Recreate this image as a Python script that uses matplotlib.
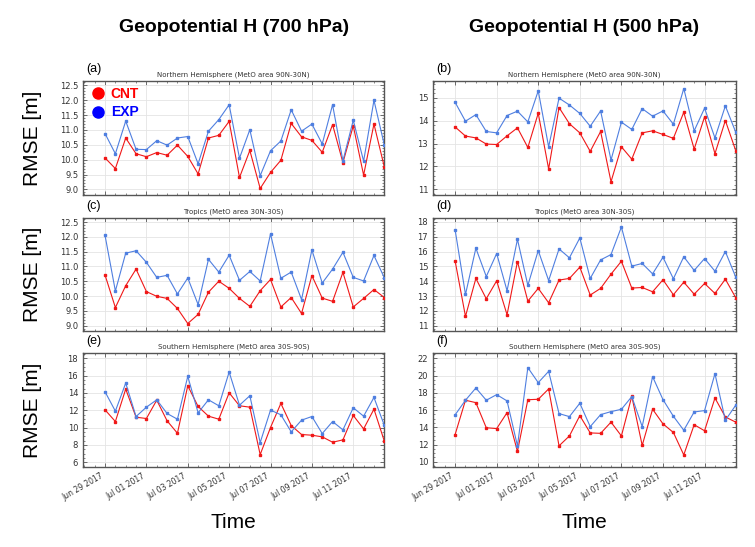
import numpy as np
import matplotlib
matplotlib.use("Agg")
import matplotlib.pyplot as plt
import matplotlib.dates as mdates
from matplotlib.ticker import MultipleLocator, AutoMinorLocator, FormatStrFormatter
from matplotlib.lines import Line2D

# 12-hourly verification times
times = np.arange(np.datetime64('2017-06-29T00'), np.datetime64('2017-07-12T13'),
                  np.timedelta64(12, 'h'))

# RMSE [m], Northern Hemisphere
cnt_nh_700 = [10.06, 9.70, 10.73, 10.20, 10.10, 10.24, 10.15, 10.49, 10.11, 9.52, 10.73, 10.82, 11.29, 9.40,
              10.31, 9.03, 9.57, 9.98, 11.22, 10.77, 10.65, 10.25, 11.18, 9.90, 11.14, 9.48, 11.20, 9.76]
exp_nh_700 = [10.88, 10.20, 11.30, 10.35, 10.34, 10.64, 10.49, 10.73, 10.78, 9.86, 10.96, 11.35, 11.85, 10.05,
              11.01, 9.46, 10.30, 10.63, 11.68, 10.96, 11.20, 10.53, 11.85, 9.96, 11.33, 9.95, 12.00, 10.50]
cnt_nh_500 = [13.73, 13.33, 13.25, 12.98, 12.96, 13.34, 13.69, 12.83, 14.33, 11.89, 14.58, 13.87, 13.47, 12.66,
              13.53, 11.33, 12.86, 12.32, 13.47, 13.56, 13.40, 13.23, 14.37, 12.76, 14.17, 12.56, 14.01, 12.69]
exp_nh_500 = [14.81, 13.98, 14.27, 13.53, 13.47, 14.23, 14.42, 13.95, 15.31, 12.86, 14.99, 14.69, 14.32, 13.76,
              14.43, 12.28, 13.94, 13.62, 14.53, 14.20, 14.43, 13.85, 15.41, 13.56, 14.55, 13.25, 14.65, 13.50]

# Tropics
cnt_tr_700 = [10.71, 9.61, 10.35, 10.91, 10.15, 9.99, 9.92, 9.58, 9.07, 9.38, 10.13, 10.50, 10.26, 9.92,
              9.65, 10.18, 10.56, 9.63, 9.95, 9.41, 10.69, 9.93, 9.82, 10.80, 9.63, 9.92, 10.22, 9.95]
exp_tr_700 = [12.05, 10.17, 11.45, 11.53, 11.14, 10.63, 10.70, 10.07, 10.61, 9.71, 11.24, 10.81, 11.38, 10.53,
              10.83, 10.51, 12.10, 10.60, 10.81, 9.88, 11.56, 10.44, 10.91, 11.48, 10.63, 10.51, 11.37, 10.62]
cnt_tr_500 = [15.38, 11.63, 14.19, 12.82, 14.03, 11.74, 15.33, 12.66, 13.52, 12.55, 14.08, 14.19, 14.95, 13.07,
              13.52, 14.48, 15.35, 13.54, 13.58, 13.29, 14.10, 13.09, 13.94, 13.13, 13.85, 13.18, 14.14, 12.89]
exp_tr_500 = [17.48, 13.11, 16.23, 14.32, 15.87, 13.36, 16.83, 13.72, 16.07, 14.05, 16.18, 15.58, 16.92, 14.19,
              15.44, 15.80, 17.66, 15.02, 15.20, 14.50, 15.62, 14.17, 15.65, 14.73, 15.53, 14.68, 16.00, 14.28]

# Southern Hemisphere
cnt_sh_700 = [12.05, 10.70, 14.45, 11.20, 11.05, 13.17, 10.78, 9.35, 14.83, 12.44, 11.32, 10.97, 14.02, 12.52,
              12.36, 6.88, 10.01, 12.79, 10.24, 9.20, 9.12, 8.93, 8.31, 8.58, 11.40, 9.85, 12.13, 8.45]
exp_sh_700 = [14.14, 11.90, 15.14, 11.28, 12.36, 13.21, 11.63, 10.97, 15.92, 11.71, 13.21, 12.52, 16.42, 12.59,
              13.68, 8.27, 12.02, 11.48, 9.51, 10.86, 11.28, 9.31, 10.70, 9.74, 12.29, 11.32, 13.48, 10.27]
cnt_sh_500 = [13.15, 17.14, 16.86, 13.95, 13.85, 15.70, 11.20, 17.20, 17.25, 18.45, 11.85, 13.00, 15.35, 13.35,
              13.30, 14.60, 13.00, 17.60, 11.90, 16.10, 14.40, 13.40, 10.80, 14.30, 13.60, 17.40, 15.20, 14.60]
exp_sh_500 = [15.44, 17.14, 18.56, 17.14, 17.79, 17.06, 11.85, 20.92, 19.18, 20.49, 15.59, 15.24, 16.79, 14.08,
              15.47, 15.82, 16.09, 17.56, 14.08, 19.88, 17.21, 15.28, 13.66, 15.78, 15.94, 20.22, 14.82, 16.56]

col_titles = ["Geopotential H (700 hPa)", "Geopotential H (500 hPa)"]
region_titles = ["Northern Hemisphere (MetO area 90N-30N)",
                 "Tropics (MetO area 30N-30S)",
                 "Southern Hemisphere (MetO area 30S-90S)"]
letters = [["(a)", "(b)"], ["(c)", "(d)"], ["(e)", "(f)"]]

panels = [[(cnt_nh_700, exp_nh_700), (cnt_nh_500, exp_nh_500)],
          [(cnt_tr_700, exp_tr_700), (cnt_tr_500, exp_tr_500)],
          [(cnt_sh_700, exp_sh_700), (cnt_sh_500, exp_sh_500)]]
ylims = [[(8.81, 12.65), (10.75, 15.74)],
         [(8.82, 12.64), (10.65, 18.27)],
         [(5.45, 18.62), (9.4, 22.62)]]
ysteps = [[0.5, 1], [0.5, 1], [2, 2]]
yfmt = [["%.1f", "%d"], ["%.1f", "%d"], ["%d", "%d"]]

red = "#f01818"
blue = "#4f7fe0"

fig = plt.figure(figsize=(7.55, 5.47), dpi=100)
lefts = [0.110, 0.5735]
widths = [0.399, 0.401]
bottoms = [0.6435, 0.395, 0.1463]
heights = [0.2084, 0.2066, 0.2084]

xmin = np.datetime64('2017-06-27T22:30')
xmax = np.datetime64('2017-07-12T12:00')

for r in range(3):
    for c in range(2):
        ax = fig.add_axes([lefts[c], bottoms[r], widths[c], heights[r]])
        cnt, exp = panels[r][c]
        ax.plot(times, cnt, '-s', color=red, lw=0.8, ms=1.8, mec=red, zorder=3)
        ax.plot(times, exp, '-s', color=blue, lw=0.8, ms=1.8, mec=blue, zorder=3)
        ax.set_xlim(xmin, xmax)
        ax.set_ylim(*ylims[r][c])
        ax.xaxis.set_major_locator(mdates.DayLocator(bymonthday=[29, 1, 3, 5, 7, 9, 11]))
        ax.xaxis.set_minor_locator(mdates.HourLocator(byhour=[0, 12]))
        ax.xaxis.set_major_formatter(mdates.DateFormatter('%b %d %Y'))
        ax.yaxis.set_major_locator(MultipleLocator(ysteps[r][c]))
        ax.yaxis.set_minor_locator(AutoMinorLocator())
        ax.yaxis.set_major_formatter(FormatStrFormatter(yfmt[r][c]))
        ax.grid(True, which='major', color='#e4e4e4', lw=0.6)
        ax.tick_params(which='both', direction='in', top=True, right=True,
                       colors='#555555', labelcolor='#333333')
        ax.tick_params(which='major', length=3, width=0.6)
        ax.tick_params(which='minor', length=1.5, width=0.5)
        ax.tick_params(axis='y', labelsize=6)
        ax.tick_params(axis='x', labelsize=5.5, rotation=30)
        for lab in ax.get_xticklabels():
            lab.set_ha('right')
        if r < 2:
            ax.set_xticklabels([])
        for s in ax.spines.values():
            s.set_color('#555555')
            s.set_linewidth(1.0)
        ax.set_title(region_titles[r], fontsize=5, color='#333333', pad=3)
        ax.text(0.01, 1.05, letters[r][c], transform=ax.transAxes, fontsize=9,
                family='Liberation Sans', va='bottom', ha='left')
        if c == 0:
            ax.set_ylabel("RMSE [m]", fontsize=15, family='Liberation Sans')
            ax.yaxis.set_label_coords(-0.135, 0.5)
        if r == 0 and c == 0:
            handles = [Line2D([], [], ls='none', marker='o', ms=8, color='red'),
                       Line2D([], [], ls='none', marker='o', ms=8, color='blue')]
            leg = ax.legend(handles, ["CNT", "EXP"], loc='upper left', frameon=False,
                            handletextpad=0.25, borderaxespad=0.15, labelspacing=0.3,
                            handlelength=1.3, borderpad=0.3,
                            prop={'family': 'Liberation Sans', 'weight': 'bold', 'size': 10})
            for t, col in zip(leg.get_texts(), ['red', 'blue']):
                t.set_color(col)
        if r == 0:
            fig.text(lefts[c] + widths[c] / 2, 1 - 28 / 547, col_titles[c], ha='center', va='center',
                     fontsize=14, weight='bold', family=['Liberation Sans Narrow', 'Liberation Sans'])
        if r == 2:
            fig.text(lefts[c] + widths[c] / 2, 1 - 522 / 547, "Time", ha='center', va='center',
                     fontsize=15, family='Liberation Sans')

fig.savefig("out.png", dpi=100, facecolor='white')
